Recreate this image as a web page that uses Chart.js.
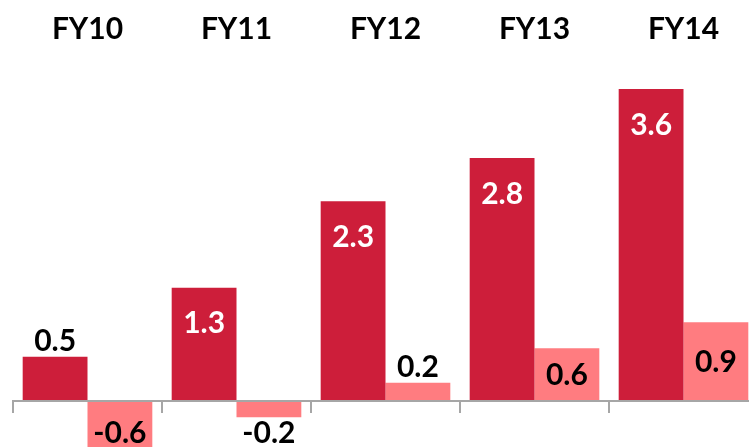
<!DOCTYPE html>
<html>
<head>
<meta charset="utf-8">
<script src="https://cdn.jsdelivr.net/npm/chart.js@4"></script>
<style>
    html, body { margin: 0; padding: 0; background: #fff; overflow: hidden; }
    #wrap { width: 749px; height: 447px; overflow: hidden; }
</style>
</head>
<body>
<div id="wrap"><canvas id="placeholder" width="760" height="447"></canvas></div>
<script>
const categories = ['FY10', 'FY11', 'FY12', 'FY13', 'FY14'];
const seriesA = [0.5, 1.3, 2.3, 2.8, 3.6];
const seriesB = [-0.6, -0.2, 0.2, 0.6, 0.9];

const darkRed = '#CD1E3A';
const pink = '#FF7C80';
const labelFont = 'bold 30px Lato';

const ctx = document.getElementById('placeholder');

// axis line, ticks, category titles and value labels
const decorations = {
    id: 'decorations',
    afterDatasetsDraw(chart) {
        const c = chart.ctx;
        const area = chart.chartArea;
        const x = chart.scales.x;
        const y = chart.scales.y;
        const zero = y.getPixelForValue(0);
        const step = area.width / categories.length;

        c.save();
        c.strokeStyle = '#A6A6A6';
        c.lineWidth = 2;
        c.beginPath();
        c.moveTo(area.left, zero + 1);
        c.lineTo(area.right, zero + 1);
        for (let i = 0; i <= categories.length; i++) {
            const px = Math.round(area.left + i * step);
            c.moveTo(px, zero);
            c.lineTo(px, zero + 13);
        }
        c.stroke();

        c.font = labelFont;
        c.textAlign = 'center';
        c.textBaseline = 'middle';
        c.fillStyle = '#000';
        categories.forEach((cat, i) => {
            c.fillText(cat, x.getPixelForValue(i), 29);
        });

        chart.data.datasets.forEach((ds, d) => {
            const meta = chart.getDatasetMeta(d);
            meta.data.forEach((bar, i) => {
                const v = ds.data[i];
                const h = bar.base - bar.y;
                let ty, color = '#000';
                if (v < 0) {
                    ty = bar.base + 33;
                } else if (d === 0 && h > 60) {
                    ty = bar.y + 36;
                    color = '#fff';
                } else if (d === 1 && h > 40) {
                    ty = (bar.y + bar.base) / 2 + 1;
                } else {
                    ty = bar.y - 15;
                }
                c.fillStyle = color;
                c.fillText(v.toFixed(1), bar.x, ty);
            });
        });
        c.restore();
    }
};

const data = {
    labels: categories,
    datasets: [
        {
            data: seriesA,
            backgroundColor: darkRed,
        },
        {
            data: seriesB,
            backgroundColor: pink,
        }
    ]
};

const config = {
    type: 'bar',
    data: data,
    options: {
        responsive: false,
        animation: false,
        devicePixelRatio: 1,
        layout: {
            padding: { left: 13, right: 2, top: 67.4, bottom: 0 }
        },
        datasets: {
            bar: {
                categoryPercentage: 0.87,
                barPercentage: 1.0,
            }
        },
        scales: {
            x: { display: false },
            y: { display: false, min: -0.544, max: 3.85 }
        },
        plugins: {
            legend: { display: false },
            tooltip: { enabled: false },
        },
    },
    plugins: [decorations],
};

const barChart = new Chart(ctx, config);
</script>
</body>
</html>
